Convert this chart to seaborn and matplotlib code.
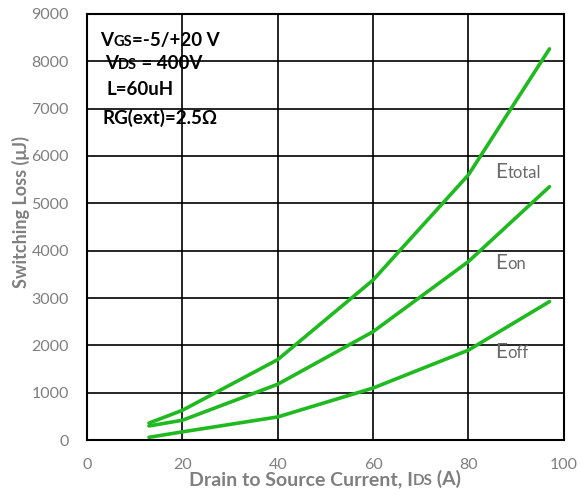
import matplotlib
matplotlib.use("Agg")
import pandas as pd
import matplotlib.pyplot as plt
import seaborn as sns
from matplotlib.offsetbox import TextArea, HPacker, AnnotationBbox

# values
current = [13, 20, 40, 60, 80, 97]
e_total = [360, 630, 1700, 3380, 5600, 8260]
e_on = [300, 420, 1180, 2290, 3770, 5350]
e_off = [60, 175, 490, 1100, 1900, 2925]

x_ticks = [0, 20, 40, 60, 80, 100]
y_ticks = [0, 1000, 2000, 3000, 4000, 5000, 6000, 7000, 8000, 9000]

sns.set_style("white")
plt.rcParams['font.family'] = ['Lato', 'DejaVu Sans']

green = '#1fba1f'
grey = '#7f7f7f'

df = pd.DataFrame({
    'I': current * 3,
    'E': e_total + e_on + e_off,
    'curve': ['total'] * 6 + ['on'] * 6 + ['off'] * 6,
})

fig = plt.figure(figsize=(5.8, 4.94), dpi=100)
ax = fig.add_axes([0.15, 0.109, 0.822, 0.863])

sns.lineplot(data=df, x='I', y='E', units='curve', estimator=None, color=green,
             linewidth=2.6, ax=ax, legend=False)

ax.set_xlim(0, 100)
ax.set_ylim(0, 9000)
ax.set_xticks(x_ticks)
ax.set_yticks(y_ticks)
ax.grid(True, color='black', linewidth=1.2)
for s in ax.spines.values():
    s.set_color('black')
    s.set_linewidth(1.5)
ax.tick_params(axis='both', length=0, labelsize=11.5, labelcolor=grey)
ax.tick_params(axis='x', pad=13)
ax.tick_params(axis='y', pad=13)
ax.set_xlabel('')
ax.set_ylabel('')


def rich(parts, xy, coords='figure pixels', align=(0, 0.5), color='black', weight='bold'):
    boxes = [TextArea(t, textprops=dict(size=s, weight=weight, color=color)) for t, s in parts]
    pack = HPacker(children=boxes, align='baseline', pad=0, sep=0)
    ab = AnnotationBbox(pack, xy, xycoords=coords, box_alignment=align,
                        frameon=False, pad=0)
    fig.add_artist(ab) if coords == 'figure pixels' else ax.add_artist(ab)


# conditions block
rich([('V', 13.5), ('GS', 10.5), ('=-5/+20 V', 13.5)], (100, 494 - 40))
rich([('V', 13.5), ('DS', 10.5), (' = 400V', 13.5)], (105, 494 - 63))
rich([('L=60uH', 13.5)], (107, 494 - 89))
rich([('RG(ext)=2.5Ω', 13.5)], (102, 494 - 118))

# curve labels
rich([('E', 15), ('total', 12)], (85.7, 5670), coords='data', color='#6a6a6a', weight='normal')
rich([('E', 15), ('on', 12)], (85.7, 3750), coords='data', color='#6a6a6a', weight='normal')
rich([('E', 15), ('off', 12)], (85.7, 1860), coords='data', color='#6a6a6a', weight='normal')

# axis titles
rich([('Drain to Source Current, I', 14), ('DS', 11), (' (A)', 14)], (325, 494 - 479),
     align=(0.5, 0.5), color=grey)
fig.text(21 / 580, 1 - 212 / 494, 'Switching Loss (μJ)', rotation=90, ha='center', va='center',
         fontsize=13, fontweight='bold', color=grey)

fig.savefig('out.png', dpi=100)
